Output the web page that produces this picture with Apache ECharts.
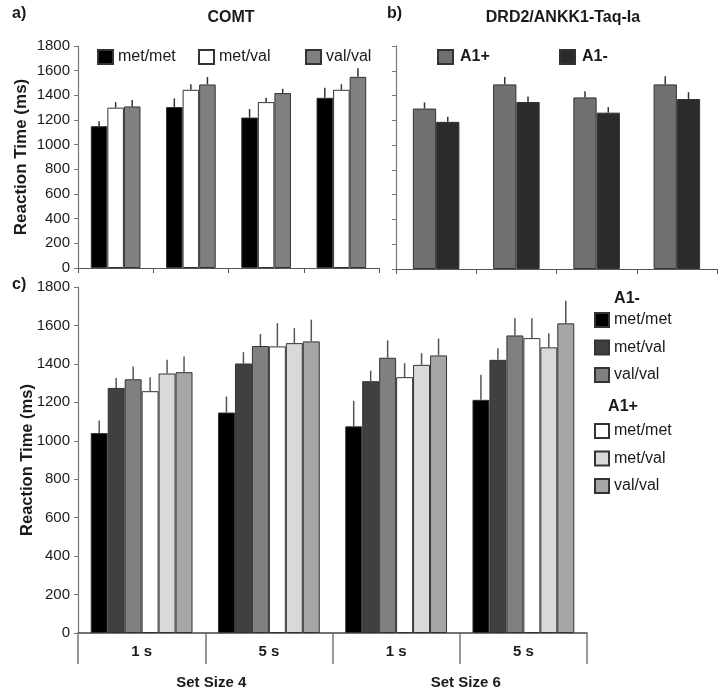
<!DOCTYPE html>
<html>
<head>
<meta charset="utf-8">
<script src="https://cdn.jsdelivr.net/npm/echarts@6/dist/echarts.min.js"></script>
<style>html,body{margin:0;padding:0;background:#fff}#c{width:723px;height:694px}</style>
</head>
<body>
<div id="c"></div>
<script>
// ---------- DATA ----------
const groupCats = ['SS4 1 s', 'SS4 5 s', 'SS6 1 s', 'SS6 5 s'];
const delayLabels = ['1 s', '5 s', '1 s', '5 s'];
const setSizeLabels = ['Set Size 4', 'Set Size 6'];
const yTicks = [0, 1800, 200];

// panel a (COMT)
const comtNames = ['met/met', 'met/val', 'val/val'];
const comtMetMet = [1150, 1305, 1220, 1380];
const comtMetMetErr = [40, 70, 70, 82];
const comtMetVal = [1300, 1445, 1345, 1445];
const comtMetValErr = [45, 45, 35, 45];
const comtValVal = [1310, 1488, 1418, 1550];
const comtValValErr = [52, 60, 35, 70];

// panel b (DRD2/ANKK1-Taq-Ia)
const drdNames = ['A1+', 'A1-'];
const drdA1plus = [1295, 1490, 1385, 1490];
const drdA1plusErr = [50, 60, 50, 65];
const drdA1minus = [1188, 1348, 1262, 1372];
const drdA1minusErr = [40, 45, 45, 55];

// panel c (combined)
const cNames = ['A1- met/met', 'A1- met/val', 'A1- val/val', 'A1+ met/met', 'A1+ met/val', 'A1+ val/val'];
const cA1mMetMet = [1040, 1147, 1075, 1213];
const cA1mMetMetErr = [65, 83, 133, 130];
const cA1mMetVal = [1275, 1402, 1310, 1421];
const cA1mMetValErr = [52, 59, 54, 61];
const cA1mValVal = [1320, 1493, 1432, 1548];
const cA1mValValErr = [67, 62, 90, 90];
const cA1pMetMet = [1258, 1491, 1331, 1534];
const cA1pMetMetErr = [73, 121, 73, 104];
const cA1pMetVal = [1350, 1508, 1395, 1486];
const cA1pMetValErr = [71, 78, 61, 74];
const cA1pValVal = [1357, 1517, 1444, 1611];
const cA1pValValErr = [82, 113, 88, 118];

// ---------- STYLE ----------
const FONT = "'Liberation Sans', Arial, sans-serif";
const TXT = '#1a1a1a';
const AX = '#777';

const panels = [
  { grid: 0, gap: 0.34, names: comtNames, vals: [comtMetMet, comtMetVal, comtValVal],
    errs: [comtMetMetErr, comtMetValErr, comtValValErr],
    colors: ['#000000', '#ffffff', '#808080'], errColor: '#333' },
  { grid: 1, gap: 0.42, names: drdNames, vals: [drdA1plus, drdA1minus],
    errs: [drdA1plusErr, drdA1minusErr],
    colors: ['#707070', '#2b2b2b'], errColor: '#333' },
  { grid: 2, gap: 0.20, names: cNames,
    vals: [cA1mMetMet, cA1mMetVal, cA1mValVal, cA1pMetMet, cA1pMetVal, cA1pValVal],
    errs: [cA1mMetMetErr, cA1mMetValErr, cA1mValValErr, cA1pMetMetErr, cA1pMetValErr, cA1pValValErr],
    colors: ['#000000', '#404040', '#808080', '#ffffff', '#d9d9d9', '#a6a6a6'], errColor: '#555' }
];

const series = [];
panels.forEach(p => {
  const n = p.vals.length;
  p.vals.forEach((arr, i) => {
    series.push({
      type: 'bar', name: p.names[i], xAxisIndex: p.grid === 2 ? 2 : p.grid, yAxisIndex: p.grid,
      data: arr, barGap: '0%', barCategoryGap: (p.gap * 100) + '%',
      itemStyle: { color: p.colors[i], borderColor: '#333', borderWidth: 1 },
      silent: true, z: 2
    });
  });
  p.vals.forEach((arr, i) => {
    series.push({
      type: 'custom', name: p.names[i] + ' err', xAxisIndex: p.grid === 2 ? 2 : p.grid, yAxisIndex: p.grid,
      silent: true, z: 3,
      data: arr.map((v, k) => [k, v, v + p.errs[i][k]]),
      encode: { x: 0, y: [1, 2] },
      renderItem: function (params, api) {
        const cat = api.value(0);
        const a = api.coord([cat, api.value(1)]);
        const b = api.coord([cat, api.value(2)]);
        const band = api.size([1, 0])[0];
        const inner = band * (1 - p.gap);
        const bw = inner / n;
        const x = a[0] - inner / 2 + bw * (i + 0.5);
        return { type: 'line', shape: { x1: x, y1: a[1], x2: x, y2: b[1] },
                 style: { stroke: p.errColor, lineWidth: 1.5 } };
      }
    });
  });
});

function yAx(gi, showLabels, fs) {
  return {
    type: 'value', gridIndex: gi, min: yTicks[0], max: yTicks[1], interval: yTicks[2],
    axisLine: { show: true, lineStyle: { color: AX, width: 1.2 } },
    axisTick: { show: true, length: 4, lineStyle: { color: AX } },
    axisLabel: { show: showLabels, fontFamily: FONT, fontSize: fs, color: TXT, margin: 8,
                 formatter: v => String(v) },
    splitLine: { show: false }
  };
}

const legendBase = {
  orient: 'horizontal', itemWidth: 15, itemHeight: 14, itemGap: 10, selectedMode: false,
  textStyle: { fontFamily: FONT, fontSize: 16, color: TXT },
  icon: 'rect'
};

const option = {
  animation: false,
  backgroundColor: '#fff',
  grid: [
    { left: 78, top: 46, width: 301, height: 222 },
    { left: 396, top: 46, width: 321, height: 223 },
    { left: 78, top: 287, width: 509, height: 346 }
  ],
  xAxis: [
    { type: 'category', gridIndex: 0, data: groupCats,
      axisLine: { lineStyle: { color: '#555', width: 1.2 } },
      axisTick: { show: true, length: 5, lineStyle: { color: '#555' } },
      axisLabel: { show: false } },
    { type: 'category', gridIndex: 1, data: groupCats,
      axisLine: { lineStyle: { color: '#555', width: 1.2 } },
      axisTick: { show: true, length: 5, lineStyle: { color: '#555' } },
      axisLabel: { show: false } },
    { type: 'category', gridIndex: 2, data: delayLabels,
      axisLine: { lineStyle: { color: '#444', width: 1.5 } },
      axisTick: { show: true, length: 31, lineStyle: { color: AX, width: 1.5 } },
      axisLabel: { fontFamily: FONT, fontSize: 15, fontWeight: 'bold', color: TXT, margin: 11 } },
    { type: 'category', gridIndex: 2, position: 'bottom', offset: 34, data: setSizeLabels,
      axisLine: { show: false }, axisTick: { show: false },
      axisLabel: { fontFamily: FONT, fontSize: 15, fontWeight: 'bold', color: TXT, margin: 8,
                   padding: [0, 0, 0, 12] } }
  ],
  yAxis: [
    Object.assign(yAx(0, true, 15), { name: 'Reaction Time (ms)', nameLocation: 'middle', nameGap: 48,
      nameMoveOverlap: false,
      nameTextStyle: { fontFamily: FONT, fontSize: 17, fontWeight: 'bold', color: TXT } }),
    yAx(1, false, 15),
    Object.assign(yAx(2, true, 15), { name: 'Reaction Time (ms)', nameLocation: 'middle', nameGap: 42,
      nameMoveOverlap: false,
      nameTextStyle: { fontFamily: FONT, fontSize: 16.5, fontWeight: 'bold', color: TXT } })
  ],
  legend: [
    Object.assign({}, legendBase, { left: 92, top: 44, data: [comtNames[0]] }),
    Object.assign({}, legendBase, { left: 193, top: 44, data: [comtNames[1]] }),
    Object.assign({}, legendBase, { left: 300, top: 44, data: [comtNames[2]] }),
    Object.assign({}, legendBase, { left: 432, top: 44, data: [drdNames[0]],
      textStyle: { fontFamily: FONT, fontSize: 16, fontWeight: 'bold', color: TXT, padding: [0, 0, 0, 2] } }),
    Object.assign({}, legendBase, { left: 554, top: 44, data: [drdNames[1]],
      textStyle: { fontFamily: FONT, fontSize: 16, fontWeight: 'bold', color: TXT, padding: [0, 0, 0, 2] } }),
    Object.assign({}, legendBase, { orient: 'vertical', left: 589, top: 307, itemWidth: 14, itemGap: 11.5,
      data: cNames.slice(0, 3), formatter: nm => nm.split(' ')[1] }),
    Object.assign({}, legendBase, { orient: 'vertical', left: 589, top: 418, itemWidth: 14, itemGap: 11.5,
      data: cNames.slice(3), formatter: nm => nm.split(' ')[1] })
  ],
  graphic: [
    { type: 'text', left: 12, top: 6, style: { text: 'a)', font: 'bold 16px ' + FONT, fill: TXT } },
    { type: 'text', x: 231, y: 18, style: { text: 'COMT', font: 'bold 16px ' + FONT, fill: TXT, textAlign: 'center', textVerticalAlign: 'middle' } },
    { type: 'text', left: 387, top: 6, style: { text: 'b)', font: 'bold 16px ' + FONT, fill: TXT } },
    { type: 'text', x: 563, y: 18, style: { text: 'DRD2/ANKK1-Taq-Ia', font: 'bold 16px ' + FONT, fill: TXT, textAlign: 'center', textVerticalAlign: 'middle' } },
    { type: 'text', left: 12, top: 277, style: { text: 'c)', font: 'bold 16px ' + FONT, fill: TXT } },
    { type: 'text', x: 627, y: 299, style: { text: 'A1-', font: 'bold 16px ' + FONT, fill: TXT, textAlign: 'center', textVerticalAlign: 'middle' } },
    { type: 'text', x: 623, y: 407, style: { text: 'A1+', font: 'bold 16px ' + FONT, fill: TXT, textAlign: 'center', textVerticalAlign: 'middle' } }
  ],
  series: series
};

const chart = echarts.init(document.getElementById('c'), null, { renderer: 'canvas' });
chart.setOption(option);
</script>
</body>
</html>
